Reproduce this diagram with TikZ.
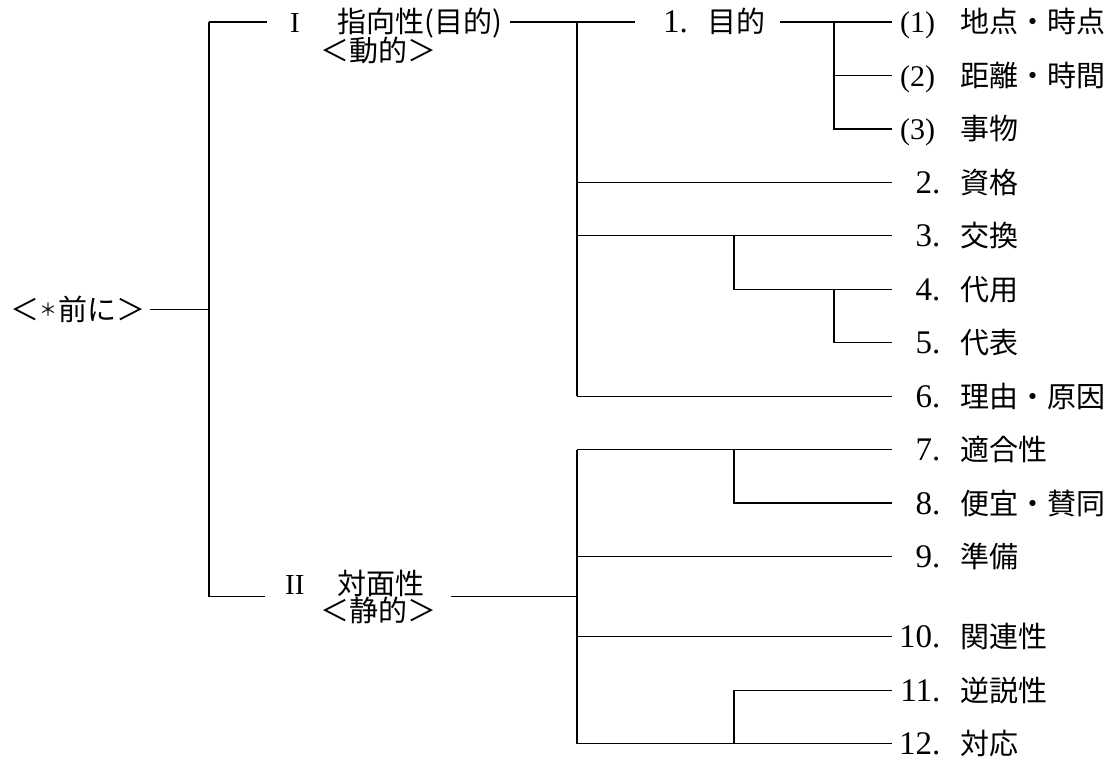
\documentclass[tikz,border=0pt]{standalone}
\usepackage{fontspec}
\setmainfont{Liberation Serif}
\newfontfamily\cjk{Noto Sans CJK JP}
\newcommand{\dg}{\fontsize{33}{33}\selectfont}
\newcommand{\numlab}[2]{\makebox[34pt][r]{\dg #1}\makebox[28pt][l]{\dg .}{\cjk #2}}
\newcommand{\parlab}[2]{\makebox[60pt][l]{\fontsize{30}{30}\selectfont (#1)}{\cjk #2}}
\begin{document}
\begin{tikzpicture}[x=1pt,y=-1pt,
  font=\fontsize{29}{33}\selectfont,
  lab/.style={anchor=west,inner sep=0pt,text height=23.5pt,text depth=1.5pt},
  ln/.style={line width=1.2pt},
  trunk/.style={line width=1.9pt},
  trunkb/.style={line width=1.5pt}]
\useasboundingbox (0,0) rectangle (1110,760);

% labels
\node[lab] (root) at (10,309.3) {{\cjk ＜}\makebox[19pt][c]{\raisebox{4pt}{\cjk\fontsize{18}{18}\selectfont ＊}}{\cjk 前に＞}};
\node[lab] (nI) at (290,22) {\makebox[47pt][l]{I}{\cjk 指向性(目的)}};
\node[lab] (nIb) at (320,50) {\cjk ＜動的＞};
\node[lab] (nIIa) at (285,583) {\makebox[52pt][l]{II}{\cjk 対面性}};
\node[lab] (nIIb) at (320,610) {\cjk ＜静的＞};
\node[lab] (n1) at (663,22) {{\dg 1}\makebox[27.5pt][l]{\dg .}{\cjk 目的}};
\node[lab] (L1) at (900,22) {\parlab{1}{地点・時点}};
\node[lab] (L2) at (900,75.45) {\parlab{2}{距離・時間}};
\node[lab] (L3) at (900,128.9) {\parlab{3}{事物}};
\node[lab] (N2) at (898,182.35) {\numlab{2}{資格}};
\node[lab] (N3) at (898,235.8) {\numlab{3}{交換}};
\node[lab] (N4) at (898,289.25) {\numlab{4}{代用}};
\node[lab] (N5) at (898,342.7) {\numlab{5}{代表}};
\node[lab] (N6) at (898,396.15) {\numlab{6}{理由・原因}};
\node[lab] (N7) at (898,449.6) {\numlab{7}{適合性}};
\node[lab] (N8) at (898,503.05) {\numlab{8}{便宜・賛同}};
\node[lab] (N9) at (898,556.5) {\numlab{9}{準備}};
\node[lab] (N10) at (898,636.7) {\numlab{10}{関連性}};
\node[lab] (N11) at (898,690.1) {\numlab{11}{逆説性}};
\node[lab] (N12) at (898,743.6) {\numlab{12}{対応}};

% junctions
\coordinate (A1) at (209,22);
\coordinate (A2) at (209,596.6);
\coordinate (A0) at (209,309.3);
\coordinate (B1) at (577,22);
\coordinate (E0) at (577,596.6);
\coordinate (C1) at (834,22);
\coordinate (D1) at (734,235.8);
\coordinate (D2) at (834,289.25);
\coordinate (F1) at (734,449.6);
\coordinate (F2) at (734,743.6);

% root level
\draw[ln] ([xshift=5pt]root.east) -- (A0);
\draw[trunk] (A1) -- (A2);
\draw[ln] (A1) -- ([xshift=-23pt]nI.west);
\draw[ln,shorten >=20pt] (A2) -- (A2 -| nIIa.west);

% group I
\draw[ln] ([xshift=8pt]nI.east) -- ([xshift=-28pt]n1.west);
\draw[trunkb] (B1) -- (B1 |- N6.west);
\draw[ln] (B1 |- N2.west) -- ([xshift=-6pt]N2.west);
\draw[ln] (B1 |- N3.west) -- ([xshift=-6pt]N3.west);
\draw[ln] (B1 |- N6.west) -- ([xshift=-6pt]N6.west);
\draw[ln] (D1) |- ([xshift=-6pt]N4.west);
\draw[ln] (D2) |- ([xshift=-6pt]N5.west);
\draw[ln,shorten <=15pt] (n1.east) -- ([xshift=-8pt]L1.west);
\draw[ln] (C1) |- ([xshift=-8pt]L3.west);
\draw[ln] (C1 |- L2.west) -- ([xshift=-8pt]L2.west);

% group II
\draw[ln,shorten <=15pt] (nIIb.east |- A2) -- (E0);
\draw[trunkb] (B1 |- N7.west) -- (B1 |- N12.west);
\draw[ln] (B1 |- N7.west) -- ([xshift=-6pt]N7.west);
\draw[ln] (B1 |- N9.west) -- ([xshift=-6pt]N9.west);
\draw[ln] (B1 |- N10.west) -- ([xshift=-6pt]N10.west);
\draw[ln] (B1 |- N12.west) -- ([xshift=-6pt]N12.west);
\draw[ln] (F1) |- ([xshift=-6pt]N8.west);
\draw[ln] (F2) |- ([xshift=-6pt]N11.west);
\end{tikzpicture}
\end{document}
